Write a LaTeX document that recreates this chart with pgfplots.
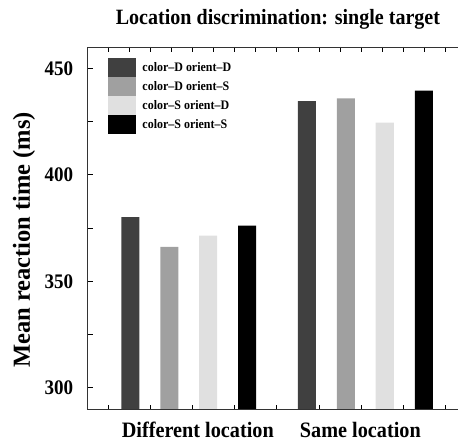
\documentclass[border=0pt]{standalone}
\usepackage{fontspec}
\setmainfont{Liberation Serif}
\newfontfamily\cond{Liberation Serif}[FakeStretch=0.92, Ligatures=TeX]
\usepackage{pgfplots}
\pgfplotsset{compat=1.18}
\definecolor{cDD}{RGB}{64,64,64}
\definecolor{cDS}{RGB}{160,160,160}
\definecolor{cSD}{RGB}{224,224,224}
\definecolor{cSS}{RGB}{0,0,0}
\begin{document}
\begin{tikzpicture}
\begin{axis}[
  at={(0,0)}, anchor=south west,
  scale only axis, width=370.5bp, height=362.7bp,
  xmin=0.426, xmax=2.525, ymin=289.7, ymax=460,
  ybar, bar width=0.102,
  axis line style={draw=none},
  tick align=inside,
  tick style={line width=0.8bp, black},
  major tick length=5bp, minor tick length=5bp,
  xtick={0.544,0.663,0.783,0.902,1.021,1.141,1.260,1.379,1.498,1.618,1.737,1.856,1.976,2.095,2.214,2.334,2.453},
  xticklabels={},
  xtick pos=both,
  xticklabel pos=lower,
  extra x ticks={1.051,1.972},
  extra x tick labels={Different location, Same location},
  extra x tick style={major tick length=0pt,
    xticklabel style={anchor=base, yshift=-27.6bp, font=\cond\bfseries\fontsize{22bp}{26bp}\selectfont}},
  ytick={300,350,400,450},
  minor ytick={325,375,425},
  ytick pos=left,
  yticklabel style={anchor=east, inner sep=0pt, xshift=-14.2bp, font=\cond\bfseries\fontsize{20.7bp}{24bp}\selectfont},
  /pgf/number format/assume math mode=true,
  every axis title shift=0pt,
  title={Location discrimination: single target},
  title style={at={(axis description cs:0.514,1)}, anchor=base, yshift=22.7bp, inner sep=0pt, font=\cond\bfseries\fontsize{21.8bp}{25bp}\selectfont},
  ylabel={Mean reaction time (ms)},
  ylabel style={at={([xshift=-63.5bp]axis description cs:0,0.468)}, anchor=center, rotate=0, font=\bfseries\fontsize{24.5bp}{28bp}\selectfont},
  legend image code/.code={\fill[#1] (0bp,-9.4bp) rectangle (28bp,9.4bp);},
  legend style={at={(axis description cs:0,1)}, anchor=north west, xshift=20.8bp, yshift=-11.3bp,
    draw=none, fill=none, inner sep=0pt, row sep=0pt, column sep=6bp,
    font=\cond\bfseries\fontsize{13bp}{15bp}\selectfont,
    nodes={inner sep=0pt}},
  legend cell align=left,
]
\addplot[fill=cDD, draw=none, bar shift=-0.331] coordinates {(1,380.1) (2,434.6)};
\addlegendentry{color–D orient–D}
\addplot[fill=cDS, draw=none, bar shift=-0.110] coordinates {(1,366.1) (2,435.9)};
\addlegendentry{color–D orient–S}
\addplot[fill=cSD, draw=none, bar shift=0.110] coordinates {(1,371.4) (2,424.5)};
\addlegendentry{color–S orient–D}
\addplot[fill=cSS, draw=none, bar shift=0.331] coordinates {(1,376.1) (2,439.5)};
\addlegendentry{color–S orient–S}
\end{axis}
\draw[line width=0.9bp, black!80] (current axis.south west) -- (current axis.north west) -- (current axis.north east);
\draw[line width=0.9bp, black!80] (current axis.south west) -- (current axis.south east);
\pgfresetboundingbox
\path[use as bounding box] (-87.5bp,-36.3bp) rectangle (371.5bp,409.7bp);
\end{tikzpicture}
\end{document}
